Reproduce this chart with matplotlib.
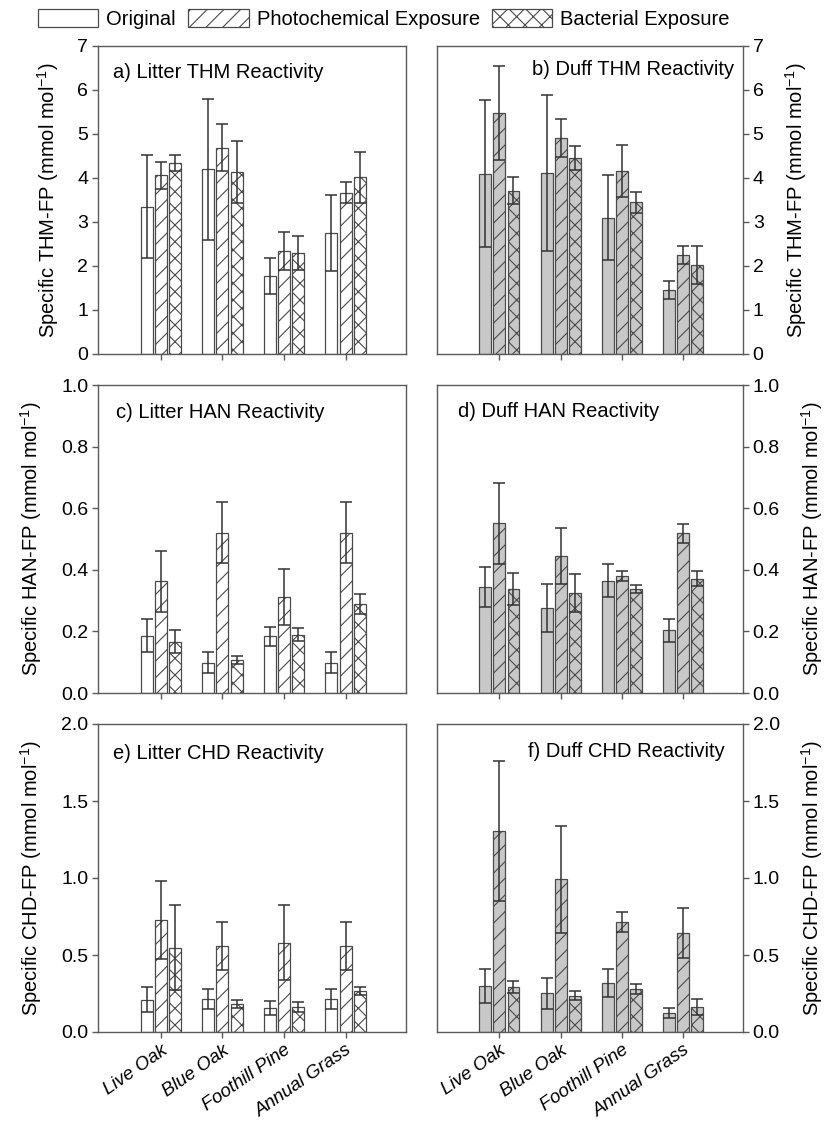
import numpy as np
import matplotlib
matplotlib.use("Agg")
import matplotlib.pyplot as plt
from matplotlib.patches import Patch
from matplotlib.ticker import FormatStrFormatter

plt.rcParams['font.family'] = ['Liberation Sans', 'DejaVu Sans']
plt.rcParams['mathtext.fontset'] = 'custom'
plt.rcParams['mathtext.rm'] = 'Liberation Sans'
plt.rcParams['hatch.linewidth'] = 0.8

species = ['Live Oak', 'Blue Oak', 'Foothill Pine', 'Annual Grass']
treatments = ['Original', 'Photochemical Exposure', 'Bacterial Exposure']

# means / errors: rows = treatment (original, photo, bacterial), cols = species
litter_thm = [[3.35, 4.20, 1.77, 2.75], [4.06, 4.69, 2.34, 3.67], [4.35, 4.14, 2.29, 4.02]]
litter_thm_err = [[1.17, 1.60, 0.41, 0.86], [0.30, 0.53, 0.43, 0.24], [0.18, 0.70, 0.39, 0.58]]
duff_thm = [[4.10, 4.11, 3.10, 1.46], [5.48, 4.90, 4.16, 2.25], [3.71, 4.46, 3.45, 2.02]]
duff_thm_err = [[1.67, 1.77, 0.97, 0.21], [1.06, 0.43, 0.60, 0.20], [0.31, 0.27, 0.24, 0.44]]

litter_han = [[0.186, 0.099, 0.184, 0.099], [0.363, 0.521, 0.312, 0.521], [0.166, 0.108, 0.189, 0.290]]
litter_han_err = [[0.054, 0.034, 0.030, 0.034], [0.099, 0.100, 0.090, 0.100], [0.037, 0.013, 0.021, 0.032]]
duff_han = [[0.343, 0.275, 0.365, 0.203], [0.551, 0.445, 0.379, 0.518], [0.338, 0.325, 0.337, 0.371]]
duff_han_err = [[0.065, 0.078, 0.054, 0.036], [0.131, 0.091, 0.016, 0.032], [0.051, 0.061, 0.013, 0.024]]

litter_chd = [[0.209, 0.213, 0.157, 0.213], [0.729, 0.558, 0.580, 0.558], [0.548, 0.183, 0.162, 0.267]]
litter_chd_err = [[0.082, 0.065, 0.047, 0.065], [0.252, 0.158, 0.245, 0.158], [0.278, 0.026, 0.035, 0.024]]
duff_chd = [[0.300, 0.252, 0.319, 0.125], [1.305, 0.991, 0.713, 0.644], [0.291, 0.237, 0.278, 0.164]]
duff_chd_err = [[0.110, 0.100, 0.092, 0.033], [0.453, 0.345, 0.066, 0.161], [0.040, 0.026, 0.031, 0.052]]

panels = [
    ('a) Litter THM Reactivity', litter_thm, litter_thm_err, 'THM', 7, 1, '%d'),
    ('b) Duff THM Reactivity', duff_thm, duff_thm_err, 'THM', 7, 1, '%d'),
    ('c) Litter HAN Reactivity', litter_han, litter_han_err, 'HAN', 1.0, 0.2, '%.1f'),
    ('d) Duff HAN Reactivity', duff_han, duff_han_err, 'HAN', 1.0, 0.2, '%.1f'),
    ('e) Litter CHD Reactivity', litter_chd, litter_chd_err, 'CHD', 2.0, 0.5, '%.1f'),
    ('f) Duff CHD Reactivity', duff_chd, duff_chd_err, 'CHD', 2.0, 0.5, '%.1f'),
]

W, H = 828, 1126
fig = plt.figure(figsize=(W / 100, H / 100), dpi=100)

cols = [(98, 406), (437, 743)]
rows = [(46, 354), (385, 693), (724, 1032)]
title_pos = [(0.049, 0.945, 'left'), (0.97, 0.955, 'right'),
             (0.058, 0.94, 'left'), (0.069, 0.945, 'left'),
             (0.049, 0.935, 'left'), (0.94, 0.94, 'right')]

hatches = ['', '//', 'xx']
edge = '#4a4a4a'
spine_c = '#5a5a5a'
x = np.arange(len(species))
offs = [-0.23, 0, 0.23]
bw = 0.195

for i, (title, vals, errs, kind, ymax, step, fmt) in enumerate(panels):
    r, c = divmod(i, 2)
    x0, x1 = cols[c]
    yt, yb = rows[r]
    ax = fig.add_axes([x0 / W, 1 - yb / H, (x1 - x0) / W, (yb - yt) / H])
    fill = 'white' if c == 0 else '#c8c8c8'
    for t in range(3):
        ax.bar(x + offs[t], vals[t], bw, color=fill, edgecolor=edge,
               linewidth=0.9, hatch=hatches[t], zorder=2)
        ax.errorbar(x + offs[t], vals[t], yerr=errs[t], fmt='none',
                    ecolor='#333333', elinewidth=1.1, capsize=4.3,
                    capthick=1.1, zorder=3)
    ax.set_xlim(-1.02, 3.98)
    ax.set_ylim(0, ymax)
    ax.set_yticks(np.arange(0, ymax + step / 2, step))
    ax.yaxis.set_major_formatter(FormatStrFormatter(fmt))
    ax.set_xticks(x)
    for s in ax.spines.values():
        s.set_color(spine_c)
        s.set_linewidth(1.0)
    ax.tick_params(axis='both', direction='out', length=4, width=1.0,
                   color=spine_c, labelsize=14, pad=3)
    if c == 1:
        ax.yaxis.tick_right()
        ax.yaxis.set_label_position('right')
    ax.set_ylabel('Specific %s-FP (mmol mol$^{\\mathregular{-1}}$)' % kind,
                  fontsize=14.5, labelpad=12 if c == 0 else 14)
    if r == 2:
        ax.set_xticklabels(species, rotation=35, ha='right',
                           rotation_mode='anchor', style='italic', fontsize=13.5)
    else:
        ax.set_xticklabels([])
    tx, ty, ha = title_pos[i]
    ax.text(tx, ty, title, transform=ax.transAxes, ha=ha, va='top',
            fontsize=14.5)

handles = [Patch(facecolor='white', edgecolor=edge, hatch=h, linewidth=0.9)
           for h in hatches]
fig.legend(handles, treatments, loc='upper left', bbox_to_anchor=(38 / W, 1 - 9 / H),
           ncol=3, frameon=False, fontsize=14.5, handlelength=3.0,
           handleheight=1.0, handletextpad=0.4, columnspacing=0.6,
           borderpad=0, borderaxespad=0)

fig.savefig('out.png', dpi=100)
